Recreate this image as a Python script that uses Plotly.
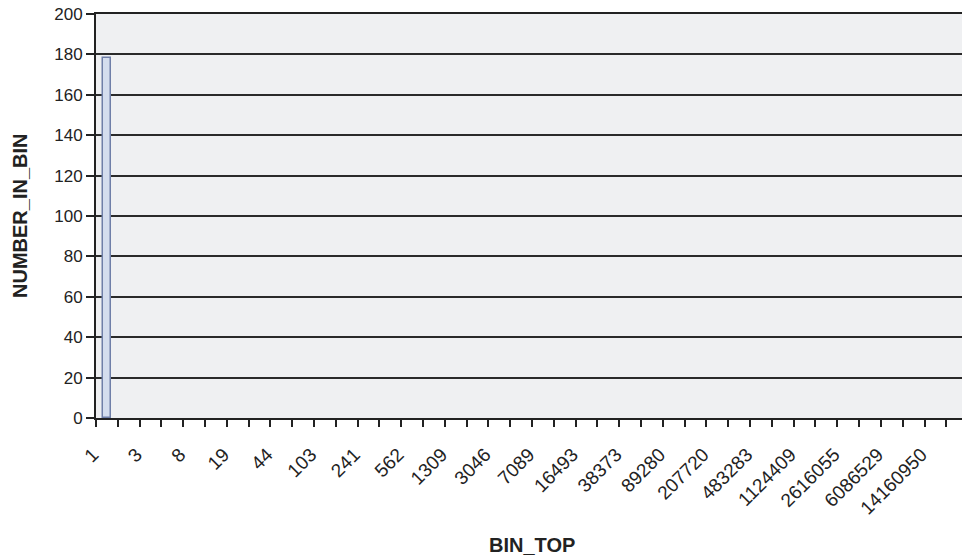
import plotly.graph_objects as go

# Bin tops shown on the x axis (every other bin is labelled)
bin_top_labels = ["1", "3", "8", "19", "44", "103", "241", "562", "1309", "3046",
                  "7089", "16493", "38373", "89280", "207720", "483283",
                  "1124409", "2616055", "6086529", "14160950"]
# Number in each bin (40 bins, only the first is non-empty)
number_in_bin = [178, 0, 0, 0, 0, 0, 0, 0, 0, 0,
                 0, 0, 0, 0, 0, 0, 0, 0, 0, 0,
                 0, 0, 0, 0, 0, 0, 0, 0, 0, 0,
                 0, 0, 0, 0, 0, 0, 0, 0, 0, 0]
y_ticks = [0, 20, 40, 60, 80, 100, 120, 140, 160, 180, 200]

bin_index = list(range(len(number_in_bin)))
label_index = bin_index[::2][:len(bin_top_labels)]

AX = "#222222"
FONT = "Liberation Sans, Arial, sans-serif"

fig = go.Figure()
fig.add_trace(go.Bar(
    x=bin_index, y=number_in_bin, width=0.4,
    marker=dict(color="#d4ddee",
                line=dict(color="#6f7fa8",
                          width=[1.5 if v > 0 else 0 for v in number_in_bin])),
    hoverinfo="x+y",
))

fig.update_layout(
    width=962, height=559,
    margin=dict(l=96, r=0, t=14, b=141),
    paper_bgcolor="white", plot_bgcolor="#eff0f2",
    showlegend=False, bargap=0,
    font=dict(family=FONT, color=AX),
    xaxis=dict(
        range=[-0.5, 39.22], automargin=False,
        tickmode="array", tickvals=label_index, ticktext=bin_top_labels,
        tickangle=-45, ticks="", tickfont=dict(size=19, color=AX),
        ticklabelshift=-14, ticklabelstandoff=16,
        showgrid=False, zeroline=False,
        showline=True, linecolor=AX, linewidth=2, mirror=True,
        minor=dict(tickmode="linear", tick0=-0.5, dtick=1, ticks="outside",
                   ticklen=7, tickwidth=2, tickcolor=AX, showgrid=False),
    ),
    yaxis=dict(
        range=[0, 200], automargin=False,
        tickmode="array", tickvals=y_ticks, ticklabeloverflow="allow",
        ticks="outside", ticklen=8, tickwidth=2, tickcolor=AX,
        tickfont=dict(size=17, color=AX),
        showgrid=True, gridcolor="#2a2a2a", gridwidth=2,
        zeroline=False, showline=True, linecolor=AX, linewidth=2,
    ),
    annotations=[
        dict(text="<b>BIN_TOP</b>", xref="paper", yref="paper",
             x=(532 - 96) / 866, y=(418 - 545) / 404,
             xanchor="center", yanchor="middle",
             showarrow=False, font=dict(size=20, color=AX, family=FONT)),
        dict(text="<b>NUMBER_IN_BIN</b>", xref="paper", yref="paper",
             x=(20 - 96) / 866, y=0.5, xanchor="center", yanchor="middle",
             textangle=-90, showarrow=False,
             font=dict(size=20, color=AX, family=FONT)),
    ],
)

fig.write_html("out.html",
               config={"displayModeBar": False},
               post_script="document.body.style.margin='0';")
